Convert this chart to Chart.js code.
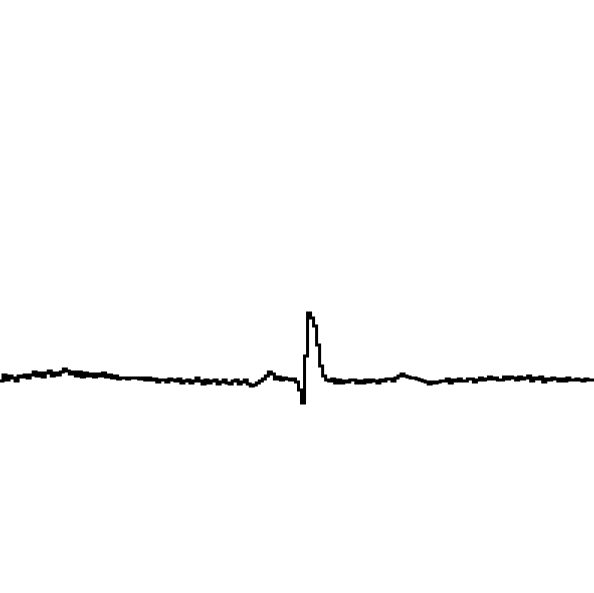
<!DOCTYPE html>
<html>
<head>
<meta charset="utf-8">
<style>html,body{margin:0;padding:0;background:#fff;}canvas{display:block;}</style>
<script src="https://cdn.jsdelivr.net/npm/chart.js@4/dist/chart.umd.min.js"></script>
</head>
<body>
<canvas id="c" width="594" height="593"></canvas>
<script>
const signal = [
  -0.03,0.03,-0.02,0.02,0.00,-0.03,0.02,0.01,0.03,0.00,
  0.03,0.06,0.02,0.05,0.01,0.05,0.07,0.02,0.05,0.03,
  0.06,0.09,0.07,0.04,0.06,
  0.02,0.06,0.01,0.05,0.02,0.04,0.01,0.04,0.02,0.05,0.01,0.03,0.00,0.02,
  -0.01,0.00,0.00,-0.01,0.00,0.00,0.00,-0.01,0.00,-0.02,0.00,
  -0.02,-0.01,-0.04,-0.02,-0.02,-0.04,-0.01,-0.02,-0.03,-0.01,-0.05,-0.03,-0.02,-0.05,-0.03,0.00,-0.03,
  -0.06,-0.02,-0.05,-0.03,-0.02,-0.06,-0.04,-0.02,-0.05,-0.06,-0.03,-0.02,-0.06,-0.04,-0.02,
  -0.06,-0.08,-0.07,-0.05,
  -0.03,-0.01,0.02,
  0.06,0.04,
  -0.01,0.01,-0.02,0.00,-0.01,-0.02,-0.01,-0.04,
  -0.12,
  -0.25,
  0.22,0.65,0.60,0.52,0.33,0.12,0.02,-0.02,
  -0.03,-0.01,-0.05,-0.02,-0.05,-0.03,-0.04,-0.02,-0.02,-0.05,-0.03,-0.05,-0.02,-0.04,-0.02,-0.03,-0.05,-0.02,-0.03,-0.01,-0.01,-0.03,
  0.00,0.02,0.04,0.02,
  0.01,0.00,0.00,-0.01,-0.02,
  -0.03,-0.04,-0.06,-0.04,-0.05,-0.04,-0.03,
  -0.03,-0.01,-0.05,-0.02,-0.03,-0.01,-0.03,-0.03,-0.01,-0.01,-0.04,-0.02,0.00,-0.02,-0.01,0.01,-0.01,0.00,-0.02,-0.02,
  0.01,-0.01,0.01,0.00,-0.02,0.01,-0.01,0.00,0.02,-0.03,0.00,-0.01,0.01,-0.04,
  -0.01,-0.02,0.00,-0.01,-0.03,-0.01,-0.03,0.00,-0.02,-0.02,-0.01,-0.02,-0.03,-0.01,-0.02,-0.02,-0.01
];
const samples = signal.map((_, i) => i);
const yMin = -2.15;
const yMax = 3.78;

new Chart(document.getElementById('c'), {
  type: 'line',
  data: {
    labels: samples,
    datasets: [{
      data: signal,
      borderColor: '#000',
      borderWidth: 3,
      pointRadius: 0,
      stepped: true,
      fill: false
    }]
  },
  options: {
    responsive: false,
    animation: false,
    layout: { padding: 0 },
    plugins: { legend: { display: false }, tooltip: { enabled: false } },
    scales: {
      x: { display: false, offset: false },
      y: { display: false, min: yMin, max: yMax }
    }
  }
});
</script>
</body>
</html>
